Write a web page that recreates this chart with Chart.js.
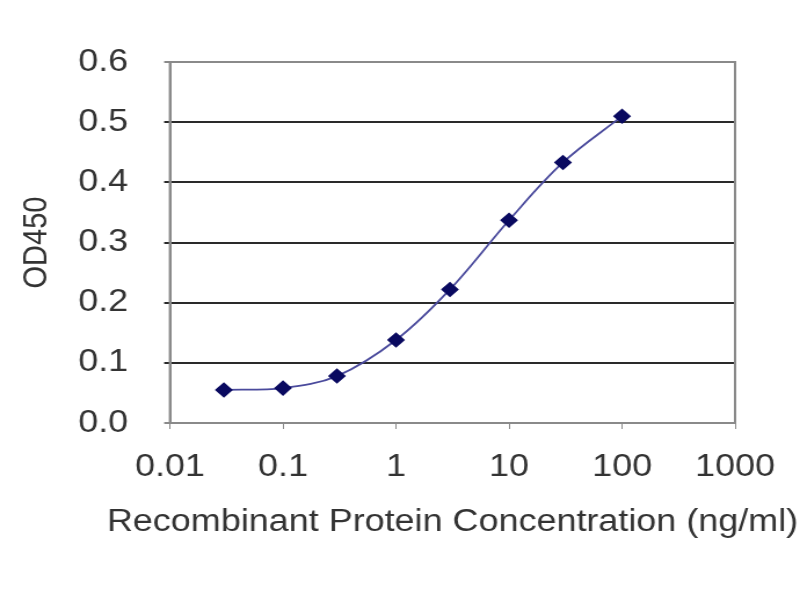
<html>
<head>
	<title>OD450 curve</title>
	<style>
		body { margin: 0; background: #fff; }
		#chart { display: block; }
	</style>
</head>
<body>
	<!-- the original picture is stretched sideways, so the canvas is drawn narrow and widened by css -->
	<canvas id="chart" width="690" height="600" style="width:800px;height:600px"></canvas>
	<script src="https://cdn.jsdelivr.net/npm/chart.js"></script>
	<script>
		// concentrations (ng/ml) and measured OD450
		const concentrations = [0.03, 0.1, 0.3, 1, 3, 10, 30, 100];
		const od450 = [0.055, 0.058, 0.078, 0.138, 0.222, 0.337, 0.433, 0.510];
		const xTicks = [0.01, 0.1, 1, 10, 100, 1000];
		const yTicks = [0, 0.1, 0.2, 0.3, 0.4, 0.5, 0.6];
		const xTitle = 'Recombinant Protein Concentration (ng/ml)';

		const textColor = '#333333';
		const frameColor = '#8a8a8a';

		// grey frame round the plot area, and the x title (wider than the plot, so drawn here)
		const frame = {
			id: 'frame',
			afterDraw(chart) {
				const a = chart.chartArea;
				const ctx = chart.ctx;
				ctx.save();
				ctx.strokeStyle = frameColor;
				ctx.lineWidth = 2;
				ctx.strokeRect(a.left, a.top, a.right - a.left, a.bottom - a.top);
				ctx.fillStyle = textColor;
				ctx.font = '31px "Liberation Sans"';
				ctx.textAlign = 'center';
				ctx.textBaseline = 'middle';
				ctx.fillText(xTitle, (a.left + a.right) / 2, 522);
				ctx.restore();
			}
		};

		new Chart(document.getElementById('chart'), {
			type: 'line',
			data: {
				datasets: [{
					label: 'OD450',
					data: concentrations.map((c, i) => ({ x: c, y: od450[i] })),
					borderColor: '#4a4a9c',
					borderWidth: 1.8,
					tension: 0.35,
					pointStyle: 'rectRot',
					pointRadius: 6.5,
					pointBackgroundColor: '#0a0a60',
					pointBorderColor: '#0a0a60'
				}]
			},
			options: {
				responsive: false,
				animation: false,
				devicePixelRatio: 1,
				layout: { padding: { top: 62, right: 56, left: 0, bottom: 0 } },
				plugins: {
					legend: { display: false },
					tooltip: { enabled: false }
				},
				scales: {
					x: {
						type: 'logarithmic',
						min: 0.01,
						max: 1000,
						afterBuildTicks: s => { s.ticks = xTicks.map(v => ({ value: v })); },
						afterFit: s => { s.height = 177; },
						ticks: {
							callback: v => String(v),
							color: textColor,
							font: { family: 'Liberation Sans', size: 31 },
							padding: 20,
							maxRotation: 0,
							autoSkip: false
						},
						grid: {
							drawOnChartArea: false,
							drawTicks: true,
							tickLength: 6,
							color: frameColor
						},
						border: { color: frameColor, width: 2 }
					},
					y: {
						min: 0,
						max: 0.6,
						afterBuildTicks: s => { s.ticks = yTicks.map(v => ({ value: v })); },
						afterFit: s => { s.width = 146.6; },
						ticks: {
							callback: v => v.toFixed(1),
							color: textColor,
							font: { family: 'Liberation Sans', size: 31 },
							padding: 31
						},
						grid: {
							color: ctx => (ctx.tick && (ctx.tick.value === 0 || ctx.tick.value === 0.6)) ? frameColor : '#2a2a2a',
							lineWidth: 2,
							tickLength: 5
						},
						border: { color: frameColor, width: 2 },
						title: {
							display: true,
							text: 'OD450',
							color: textColor,
							font: { family: 'Liberation Sans', size: 29 },
							padding: { top: 15 }
						}
					}
				}
			},
			plugins: [frame]
		});
	</script>
</body>
</html>
